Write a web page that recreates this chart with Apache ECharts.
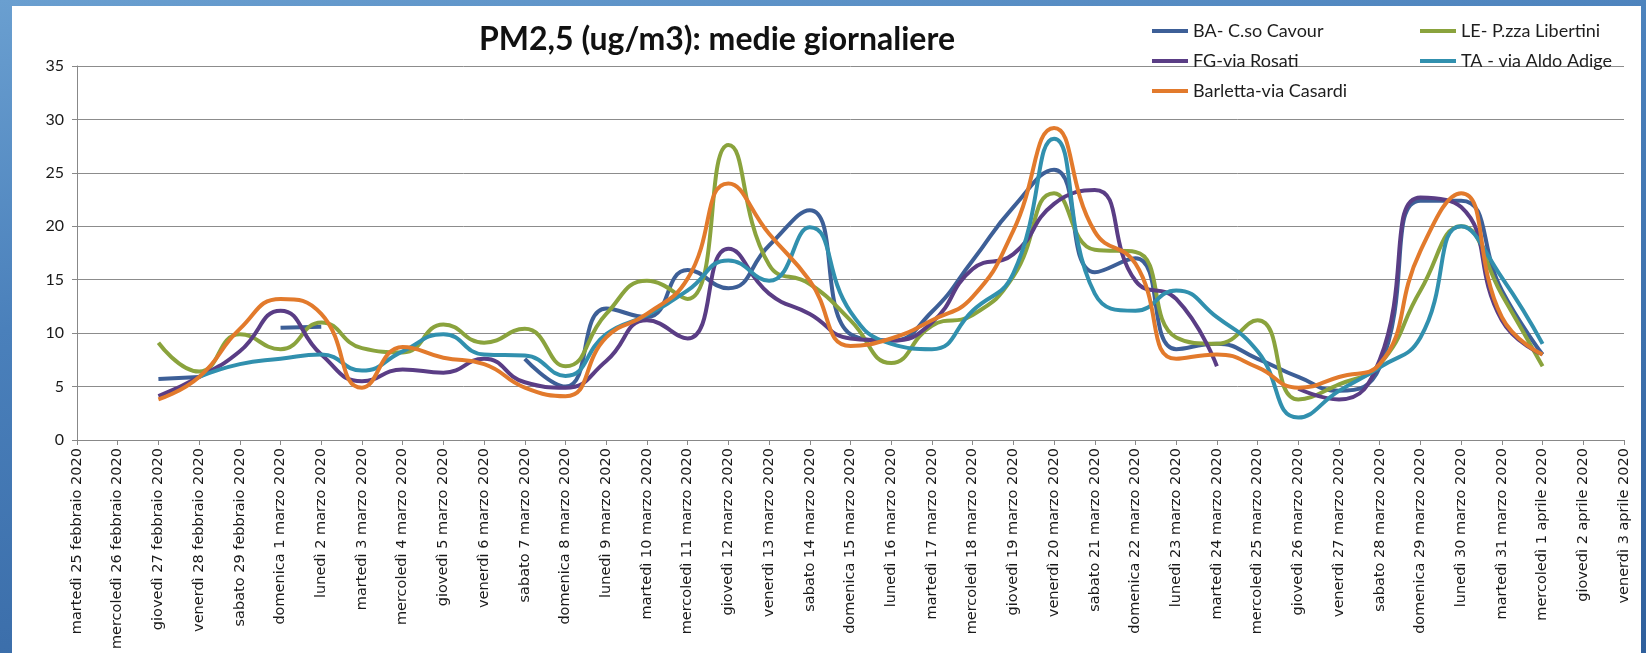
<!DOCTYPE html>
<html>
<head>
<meta charset="utf-8">
<script src="https://cdn.jsdelivr.net/npm/echarts@6/dist/echarts.min.js"></script>
<style>
html,body{margin:0;padding:0;width:1646px;height:653px;overflow:hidden;}
body{background:linear-gradient(170deg,#6a9fd0 0%,#4a80bb 35%,#2f5f9c 100%);}
#chart{position:absolute;left:12px;top:6px;width:1629px;height:647px;background:#fff;}
</style>
</head>
<body>
<div id="chart"></div>
<script>
const categories = [
  "martedì 25 febbraio 2020","mercoledì 26 febbraio 2020","giovedì 27 febbraio 2020","venerdì 28 febbraio 2020","sabato 29 febbraio 2020",
  "domenica 1 marzo 2020","lunedì 2 marzo 2020","martedì 3 marzo 2020","mercoledì 4 marzo 2020","giovedì 5 marzo 2020",
  "venerdì 6 marzo 2020","sabato 7 marzo 2020","domenica 8 marzo 2020","lunedì 9 marzo 2020","martedì 10 marzo 2020",
  "mercoledì 11 marzo 2020","giovedì 12 marzo 2020","venerdì 13 marzo 2020","sabato 14 marzo 2020","domenica 15 marzo 2020",
  "lunedì 16 marzo 2020","martedì 17 marzo 2020","mercoledì 18 marzo 2020","giovedì 19 marzo 2020","venerdì 20 marzo 2020",
  "sabato 21 marzo 2020","domenica 22 marzo 2020","lunedì 23 marzo 2020","martedì 24 marzo 2020","mercoledì 25 marzo 2020",
  "giovedì 26 marzo 2020","venerdì 27 marzo 2020","sabato 28 marzo 2020","domenica 29 marzo 2020","lunedì 30 marzo 2020",
  "martedì 31 marzo 2020","mercoledì 1 aprile 2020","giovedì 2 aprile 2020","venerdì 3 aprile 2020"
];
const seriesNames = ["BA- C.so Cavour","LE- P.zza Libertini","FG-via Rosati","TA - via Aldo Adige","Barletta-via Casardi"];
const N = null;
const baCavour = [N,N,5.7,5.9,N,10.5,10.6,N,N,N,N,7.6,5.0,12.3,11.5,15.9,14.2,18.2,21.5,9.9,9.3,12.0,16.8,21.8,25.3,15.7,17.0,8.5,9.0,7.6,5.9,4.6,6.8,22.4,22.4,14.0,8.0,N,N];
const leLibertini = [N,N,9.1,6.4,9.9,8.5,11.0,8.6,8.2,10.8,9.1,10.4,6.9,11.8,14.9,13.2,27.6,16.4,14.6,11.2,7.2,10.7,11.7,15.3,23.1,17.8,17.6,9.6,9.0,11.2,3.8,5.2,7.1,14.0,20.0,13.6,6.9,N,N];
const fgRosati = [N,N,4.1,5.9,8.3,12.1,8.0,5.5,6.6,6.3,7.6,5.4,4.9,7.4,11.2,9.5,17.9,13.7,11.8,9.5,9.3,11.0,16.0,17.4,22.1,23.4,14.9,13.2,6.9,N,4.8,3.8,7.5,22.7,21.8,11.2,8.0,N,N];
const taAdige = [N,N,N,5.9,7.1,7.6,8.0,6.5,8.3,9.9,8.0,7.9,6.0,9.9,11.7,14.0,16.8,14.9,19.9,12.0,9.0,8.5,12.1,15.6,28.2,13.7,12.1,14.0,11.5,8.3,2.1,4.6,6.8,9.6,20.0,15.2,9.0,N,N];
const barletta = [N,N,3.8,5.9,10.4,13.2,11.8,4.9,8.7,7.7,7.1,4.9,4.1,9.6,11.8,15.1,24.0,19.3,14.9,8.8,9.5,11.2,13.4,19.6,29.2,19.5,16.5,7.6,8.0,6.8,4.9,5.9,7.1,17.7,23.1,11.5,8.0,N,N];
const yTicks = {min: 0, max: 35, interval: 5};
const colors = ["#3d5f97","#8aa33d","#5a3d85","#3190ae","#e27a2c"];

const allData = [baCavour, leLibertini, fgRosati, taAdige, barletta];
const chart = echarts.init(document.getElementById('chart'), null, {renderer: 'canvas'});
const legendText = {fontFamily: 'Lato', fontSize: 18, color: '#1e1e1e'};
chart.setOption({
  backgroundColor: '#ffffff',
  animation: false,
  title: {
    text: 'PM2,5 (ug/m3): medie giornaliere',
    left: 700, top: 13, textAlign: 'center',
    textStyle: {fontFamily: 'Lato', fontWeight: 'bold', fontSize: 32, color: '#111'}
  },
  legend: [
    {data: [seriesNames[0], seriesNames[2], seriesNames[4]], orient: 'vertical', left: 1140, top: 16, padding: 0,
     itemGap: 12, icon: 'rect', itemWidth: 36, itemHeight: 4, textStyle: legendText},
    {data: [seriesNames[1], seriesNames[3]], orient: 'vertical', left: 1408, top: 16, padding: 0,
     itemGap: 12, icon: 'rect', itemWidth: 36, itemHeight: 4, textStyle: legendText}
  ],
  grid: {left: 65, right: 17, top: 60, bottom: 213, containLabel: false},
  xAxis: {
    type: 'category', data: categories, boundaryGap: false,
    axisLine: {lineStyle: {color: '#888', width: 1}},
    axisTick: {show: true, length: 5, lineStyle: {color: '#888'}, alignWithLabel: true},
    axisLabel: {rotate: 90, interval: 0, margin: 8, fontFamily: 'DejaVu Sans', fontSize: 14.5, color: '#1a1a1a'},
    splitLine: {show: false}
  },
  yAxis: {
    type: 'value', min: yTicks.min, max: yTicks.max, interval: yTicks.interval,
    axisLine: {show: true, lineStyle: {color: '#888', width: 1}},
    axisTick: {show: true, length: 5, lineStyle: {color: '#888'}},
    axisLabel: {margin: 13, fontFamily: 'Lato', fontSize: 16, color: '#1a1a1a'},
    splitLine: {show: true, lineStyle: {color: '#8c8c8c', width: 1}}
  },
  series: seriesNames.map((name, k) => ({
    name: name, type: 'line', data: allData[k], smooth: 0.5, showSymbol: false,
    connectNulls: false, color: colors[k],
    lineStyle: {width: 4, color: colors[k]}
  }))
});
</script>
</body>
</html>
